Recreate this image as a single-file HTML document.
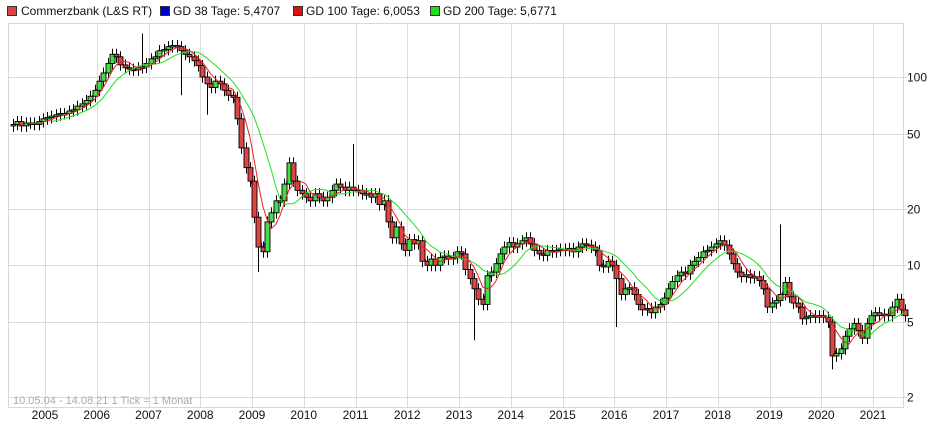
<!DOCTYPE html>
<html><head><meta charset="utf-8"><style>
body{margin:0;background:#fff;font-family:"Liberation Sans",sans-serif;}
svg{display:block}
</style></head><body>
<svg id="chart" width="932" height="423" xmlns="http://www.w3.org/2000/svg">
<g font-size="12" fill="#111">
 <g><rect x="7.5" y="6.5" width="9" height="9" fill="#dd4444" stroke="#333"/><text x="21" y="15">Commerzbank (L&amp;S RT)</text></g>
 <g><rect x="160.5" y="6.5" width="9" height="9" fill="#0000cc" stroke="#333"/><text x="173" y="15">GD 38 Tage: 5,4707</text></g>
 <g><rect x="293.5" y="6.5" width="9" height="9" fill="#dd1111" stroke="#333"/><text x="306" y="15">GD 100 Tage: 6,0053</text></g>
 <g><rect x="430.5" y="6.5" width="9" height="9" fill="#22dd22" stroke="#333"/><text x="443" y="15">GD 200 Tage: 5,6771</text></g>
</g>
<g id="grid"></g>
<g id="under"></g>
<g id="marks"></g>
<g id="over"></g>
<g id="axes"></g>
<text x="13" y="404" font-size="11" fill="#aaa">10.05.04 - 14.08.21   1 Tick = 1 Monat</text>
</svg>
<script>
const yearLabels=[2005,2006,2007,2008,2009,2010,2011,2012,2013,2014,2015,2016,2017,2018,2019,2020,2021];
const yTicks=[100,50,20,10,5,2];
const startYear=2004+4/12;
const closes=[
56,58,55,57,57,56,58,60,
61,62,63,64,64,66,67,70,72,75,79,85,
95,105,118,132,128,116,112,110,109,112,113,118,
125,128,138,140,145,147,145,138,132,128,122,115,
100,92,88,95,92,85,80,78,60,42,33,28,
18,12.5,11.8,17,19,22,22,27,35,28,25,24,
23,22,24,23,22,23,25,27,26,25,26,25,
25,24,24,23,24,21,22,17,14,16,13,12,
13.7,13,13.5,10.5,10,10.8,10,11,11.2,10.8,11,11.8,
11.5,9.5,8.5,7.5,6.6,6.2,8.8,9.2,10.2,11.5,12.5,13.2,
12.5,13,13.5,14,13,12,11.5,11.3,12,11.8,12,12.2,
12,12.3,11.8,12.5,13,12.8,12.5,12,10,9.8,10.5,10,
8.5,7,7.5,7.6,7,6.2,5.8,5.9,5.6,6,6.2,6.7,
7.5,8.2,8.8,9.2,9,10,10.5,11,11.8,12,12.5,13,
13.5,12.8,11.5,10.2,9.2,8.7,8.9,8.6,8.7,8.3,7.5,6.0,
6.3,6.5,7.0,8.1,6.8,6.3,6.0,5.2,5.3,5.4,5.3,5.4,
5.3,5.0,3.3,3.4,3.6,4.2,4.6,4.9,4.5,4.1,4.9,5.4,
5.6,5.4,5.5,5.4,6.0,6.6,5.8,5.4];
const spikeIdx=[30,39,45,57,79,107,140,178,190];
const spikeHigh=[170,null,null,null,44,null,null,16.5,null];
const spikeLow=[null,80,63,9.2,null,4.0,4.7,null,2.8];
const firstOpen=55;

const NS="http://www.w3.org/2000/svg";
const L=8,R=903,T=23,B=407;
function X(t){return 45+(t-2005)*51.75;}
function Y(p){return 77+(2-Math.log10(p))*188.3;}
function el(tag,a,parent){const e=document.createElementNS(NS,tag);for(const k in a)e.setAttribute(k,a[k]);parent.appendChild(e);return e;}
const grid=document.getElementById('grid'),marks=document.getElementById('marks'),axes=document.getElementById('axes');
const under=document.getElementById('under'),over=document.getElementById('over');
let r=el('rect',{x:L+0.5,y:T+0.5,width:R-L,height:B-T,fill:'none',stroke:'#d8d8d8'},grid);


yearLabels.forEach(yr=>{
 const x=Math.round(X(yr))+0.5;
 const g=el('line',{x1:x,x2:x,y1:T,y2:B,stroke:'#dcdcdc'},grid);
 
 
 const t=el('text',{x:X(yr),y:419,'font-size':12,'text-anchor':'middle',fill:'#111'},axes);
 t.textContent=yr;
 
 
});
yTicks.forEach(v=>{
 const y=Math.round(Y(v))+0.5;
 const g=el('line',{x1:L,x2:R+4,y1:y,y2:y,stroke:'#dcdcdc'},grid);
 
 
 const t=el('text',{x:907,y:y+4,'font-size':12,fill:'#111'},axes);
 t.textContent=v;
 
 
});
function tOf(i){return startYear+(i+0.5)/12;}
function sma(n){return closes.map((c,i)=>{if(i<n-1)return null;let s=0;for(let k=i-n+1;k<=i;k++)s+=closes[k];return s/n;});}
function drawMA(vals,color,name,parent,w){
 let d='';vals.forEach((v,i)=>{if(v==null)return;d+=(d?'L':'M')+X(tOf(i)).toFixed(1)+' '+Y(v).toFixed(1);});
 const p=el('path',{d:d,fill:'none',stroke:color,'stroke-width':w},parent);
 
 
}
closes.forEach((c,i)=>{
 const o=i===0?firstOpen:closes[i-1];
 let hi=Math.max(o,c)*1.07,lo=Math.min(o,c)*0.93;
 const si=spikeIdx.indexOf(i);
 if(si>=0){if(spikeHigh[si])hi=spikeHigh[si];if(spikeLow[si])lo=spikeLow[si];}
 const x=Math.round(X(tOf(i)))+0.5;
 const w=el('line',{x1:x,x2:x,y1:Y(hi),y2:Y(lo),stroke:'#000','stroke-width':1},marks);
 
 
 const top=Y(Math.max(o,c)),bot=Y(Math.min(o,c));
 const b=el('rect',{x:x-2.5,y:top,width:5,height:Math.max(1.5,bot-top),fill:c>=o?'#44dd44':'#dd4444',stroke:'#000','stroke-width':0.9},marks);
 
 
});
drawMA(sma(2),'#1a1aaa','ma-38-line',under,1);
drawMA(sma(10),'#22dd22','ma-200-line',over,1);
drawMA(sma(5),'#ee2222','ma-100-line',over,1);
</script>
</body></html>
